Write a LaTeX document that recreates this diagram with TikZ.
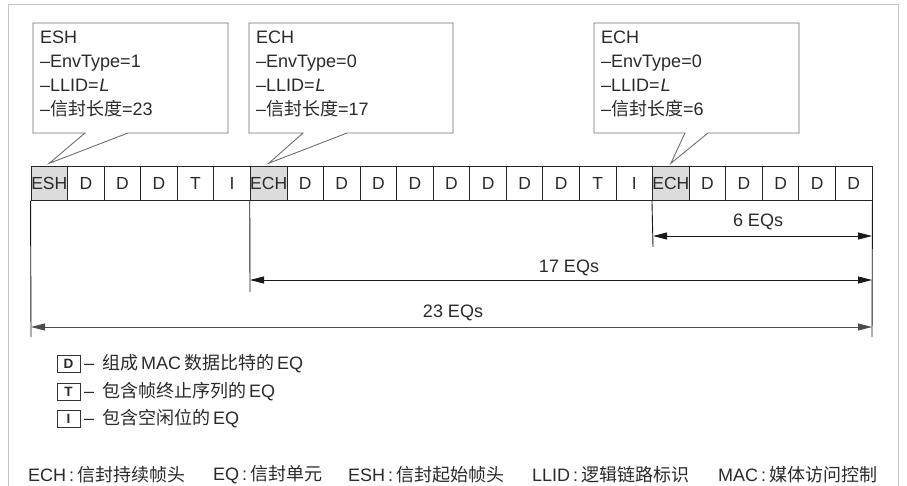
\documentclass[tikz,border=0pt]{standalone}
\usepackage{fontspec}
\setmainfont{Liberation Sans}
\newfontfamily\cjk{Noto Sans CJK SC}
\newfontfamily\slfont{Liberation Sans}[FakeSlant=0.18]
\usetikzlibrary{arrows.meta}
\definecolor{txt}{HTML}{2A2A2A}
\definecolor{framecol}{HTML}{C4C4C4}
\definecolor{calloutcol}{HTML}{707070}
\definecolor{hdfill}{HTML}{DCDCDC}
\begin{document}
\begin{tikzpicture}[x=1pt,y=-1pt,
  every node/.style={text=txt},
  bodyfont/.style={font=\fontsize{18}{23.8}\selectfont},
  cell/.style={draw=black!85,line width=0.9pt,minimum width=36.565pt,minimum height=33.5pt,inner sep=0pt,font=\fontsize{17.5}{20}\selectfont},
  hd/.style={fill=hdfill},
  dc/.style={},
  callout/.style={draw=calloutcol,line width=0.9pt,fill=white},
  boxtext/.style={bodyfont,align=left,anchor=north west,inner sep=0pt},
  dimline/.style={draw=black!90,line width=0.9pt},
  dimarrow/.style={draw=black!90,line width=0.9pt,{Triangle[length=14pt,width=7pt]}-{Triangle[length=14pt,width=7pt]}},
  legbox/.style={draw=black!80,line width=0.9pt,minimum width=23pt,minimum height=17pt,inner sep=0pt,font=\fontsize{13.5}{14}\selectfont\bfseries},
  legtext/.style={bodyfont,anchor=west,inner sep=0pt},
  foot/.style={bodyfont,anchor=west,inner sep=0pt}
]
\useasboundingbox (0,0) rectangle (907,486);
% outer frame
\draw[framecol,line width=1pt] (8,486) -- (8,5) -- (898,5) -- (898,486);

% cells
\foreach \t/\s [count=\i] in {ESH/hd,D/dc,D/dc,D/dc,T/dc,I/dc,ECH/hd,D/dc,D/dc,D/dc,D/dc,D/dc,D/dc,D/dc,D/dc,T/dc,I/dc,ECH/hd,D/dc,D/dc,D/dc,D/dc,D/dc}
  \node[cell,\s] (c\i) at ({31+36.565*(\i-0.5)},183.5) {\t};

% callouts
\coordinate (t1) at ([yshift=3pt]c1.north);
\coordinate (t2) at ([yshift=3pt]c7.north);
\coordinate (t3) at ([yshift=3pt]c18.north);
\draw[callout] (33,23) -- (228,23) -- (228,133) -- (128,133) -- (t1) -- (85,133) -- (33,133) -- cycle;
\draw[callout] (249,23) -- (453,23) -- (453,133) -- (347,133) -- (t2) -- (303,133) -- (249,133) -- cycle;
\draw[callout] (594,23) -- (799,23) -- (799,133) -- (708,133) -- (t3) -- (685,133) -- (594,133) -- cycle;
\node[boxtext] (b1) at (40,31) {ESH\\–EnvType=1\\–LLID={\slfont L}\\–{\cjk 信封长度}=23};
\node[boxtext] (b2) at (256,31) {ECH\\–EnvType=0\\–LLID={\slfont L}\\–{\cjk 信封长度}=17};
\node[boxtext] (b3) at (601,31) {ECH\\–EnvType=0\\–LLID={\slfont L}\\–{\cjk 信封长度}=6};

% dimension lines
\coordinate (e23l) at (31,337);
\coordinate (e23r) at (872,337);
\coordinate (e17l) at (250,292);
\coordinate (e6l) at (653,247);
\draw[dimline] (c1.south west) -- (e23l);
\draw[dimline] (c23.south east) -- (e23r);
\draw[dimline] (c7.south west) -- (e17l);
\draw[dimline] (c18.south west) -- (e6l);
\coordinate (a6l) at (653,236);  \coordinate (a6r) at (872,236);
\coordinate (a17l) at (250,280); \coordinate (a17r) at (872,280);
\coordinate (a23l) at (31,327);  \coordinate (a23r) at (872,327);
\draw[dimarrow] (a6l) -- (a6r);
\draw[dimarrow] (a17l) -- (a17r);
\draw[dimarrow,draw=black!70] (a23l) -- (a23r);
\node[bodyfont] (l6) at (758,222) {6 EQs};
\node[bodyfont] (l17) at (569,268) {17 EQs};
\node[bodyfont] (l23) at (453,313) {23 EQs};

% legend
\node[legbox] (kd) at (68.5,363.5) {D};
\node[legbox] (kt) at (68.5,391.5) {T};
\node[legbox] (ki) at (68.5,418.5) {I};
\node[legtext] (kdt) at (84,363.5) {–\, {\cjk 组成}\,MAC\,{\cjk 数据比特的}\,EQ};
\node[legtext] (ktt) at (84,391.5) {–\, {\cjk 包含帧终止序列的}\,EQ};
\node[legtext] (kit) at (84,418.5) {–\, {\cjk 包含空闲位的}\,EQ};

% footer
\node[foot] (f1) at (28,475) {ECH\,:\,{\cjk 信封持续帧头}};
\node[foot] (f2) at (213,475) {EQ\,:\,{\cjk 信封单元}};
\node[foot] (f3) at (348,475) {ESH\,:\,{\cjk 信封起始帧头}};
\node[foot] (f4) at (532,475) {LLID\,:\,{\cjk 逻辑链路标识}};
\node[foot] (f5) at (718,475) {MAC\,:\,{\cjk 媒体访问控制}};
\end{tikzpicture}
\end{document}
